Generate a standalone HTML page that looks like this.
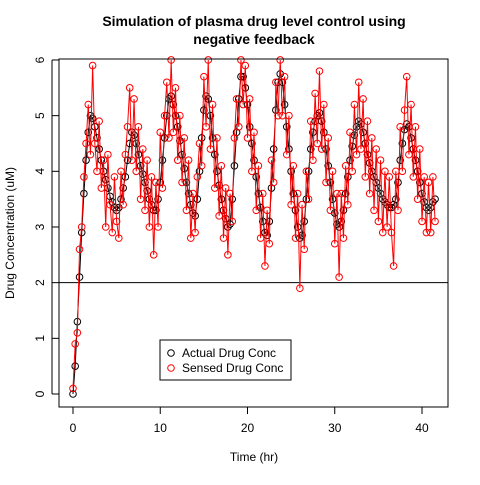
<!DOCTYPE html>
<html><head><meta charset="utf-8"><style>
body{margin:0;background:#fff}
svg text{font-family:"Liberation Sans",sans-serif}
</style></head><body>
<svg id="c" width="480" height="480" xmlns="http://www.w3.org/2000/svg">
<rect width="480" height="480" fill="#fff"/>
<text x="254" y="26" text-anchor="middle" font-size="14" font-weight="bold">Simulation of plasma drug level control using</text>
<text x="254" y="44" text-anchor="middle" font-size="14" font-weight="bold">negative feedback</text>
<text x="254" y="461" text-anchor="middle" font-size="12">Time (hr)</text>
<text transform="translate(14,233) rotate(-90)" text-anchor="middle" font-size="12">Drug Concentration (uM)</text>
<g id="ax"></g>
<g id="series"></g>
<rect x="59" y="59" width="389" height="348" fill="none" stroke="#000"/>
<g>
<rect x="160" y="340" width="131" height="40" fill="#fff" stroke="#000"/>
<circle cx="171" cy="353" r="3.3" fill="none" stroke="#000"/>
<text x="182" y="357" font-size="12">Actual Drug Conc</text>
<circle cx="171" cy="368" r="3.3" fill="none" stroke="red"/>
<text x="182" y="372" font-size="12">Sensed Drug Conc</text>
</g>
</svg>
<script>
const timeStep = 0.25;
const xTicks = [0,10,20,30,40];
const yTicks = [0,1,2,3,4,5,6];
const threshold = 2;
const actual = [0,0.5,1.3,2.1,2.9,3.6,4.2,4.7,5.0,4.95,4.8,4.6,4.4,4.2,4.0,3.85,3.7,3.55,3.45,3.35,3.3,3.35,3.5,3.7,3.9,4.2,4.5,4.7,4.65,4.5,4.3,4.1,3.95,3.8,3.65,3.5,3.4,3.3,3.3,3.5,3.8,4.2,4.6,5.0,5.3,5.35,5.2,5.0,4.8,4.55,4.3,4.05,3.8,3.6,3.4,3.25,3.2,3.5,4.0,4.6,5.1,5.35,5.3,5.0,4.6,4.3,4.0,3.75,3.5,3.3,3.15,3.0,3.05,3.5,4.1,4.7,5.3,5.7,5.7,5.5,5.2,4.8,4.5,4.2,3.9,3.6,3.35,3.1,2.9,2.85,3.1,3.7,4.4,5.1,5.6,5.75,5.6,5.2,4.8,4.4,4.0,3.6,3.3,3.0,2.8,2.85,3.1,3.5,4.0,4.4,4.7,4.9,5.0,5.05,4.9,4.7,4.4,4.1,3.8,3.5,3.25,3.05,3.0,3.1,3.3,3.6,3.9,4.2,4.45,4.65,4.8,4.9,4.85,4.7,4.5,4.3,4.15,4.0,3.9,3.8,3.7,3.6,3.5,3.45,3.4,3.35,3.35,3.4,3.5,3.8,4.2,4.5,4.75,4.85,4.8,4.6,4.4,4.2,4.0,3.8,3.6,3.45,3.35,3.3,3.35,3.45,3.5];
const sensed = [0.1,0.9,1.1,2.6,3.0,3.9,4.5,5.2,4.3,5.9,4.5,4.0,4.9,3.7,4.2,3.0,4.3,3.4,2.9,3.9,3.1,2.8,4.0,3.4,4.3,4.8,5.5,4.2,5.3,4.0,4.8,3.5,4.4,3.3,4.2,3.0,3.9,2.5,3.8,3.0,4.7,3.7,5.0,5.6,4.6,6.0,4.7,5.5,4.2,5.0,3.8,4.6,3.3,4.2,2.8,3.6,2.9,3.9,4.5,4.1,5.7,4.8,6.0,4.4,5.2,3.7,4.6,3.2,4.1,2.8,3.7,2.5,3.6,3.1,4.6,5.3,4.8,6.0,5.2,5.9,4.6,5.3,4.0,4.7,3.3,4.1,2.8,3.6,2.3,3.3,2.7,4.2,3.8,5.6,5.0,6.0,5.0,5.7,4.3,5.0,3.4,4.1,2.8,3.6,1.9,3.4,2.6,4.0,3.5,4.9,4.2,5.4,4.5,5.8,4.4,5.2,3.8,4.6,3.3,4.0,2.7,3.6,2.1,3.6,2.8,4.1,3.4,4.7,4.0,5.2,4.3,5.6,4.4,5.3,3.9,4.9,3.6,4.6,3.3,4.4,3.1,4.2,2.9,4.0,3.0,3.9,2.9,2.3,4.0,3.3,4.8,4.0,5.1,5.7,4.3,5.2,3.9,4.8,3.5,4.4,3.1,3.9,2.9,3.8,2.9,3.9,3.1];

const NS='http://www.w3.org/2000/svg';
const xs = v => 73 + v*8.725;
const ys = v => 394 - v*55.67;
function mk(tag, attrs, parent){const e=document.createElementNS(NS,tag);for(const k in attrs)e.setAttribute(k,attrs[k]);parent.appendChild(e);return e;}
const ax=document.getElementById('ax');
xTicks.forEach(t=>{
  const l=mk('line',{x1:xs(t),x2:xs(t),y1:407,y2:414,stroke:'#000'},ax);
  
  
  const tx=mk('text',{x:xs(t),y:432,'text-anchor':'middle','font-size':12},ax);
  tx.textContent=t;
  
  
});
mk('line',{x1:xs(0),x2:xs(40),y1:407,y2:407,stroke:'#000'},ax);
yTicks.forEach(t=>{
  const l=mk('line',{x1:52,x2:59,y1:ys(t),y2:ys(t),stroke:'#000'},ax);
  
  
  const tx=mk('text',{transform:`translate(44,${ys(t)}) rotate(-90)`,'text-anchor':'middle','font-size':12},ax);
  tx.textContent=t;
  
  
});
mk('line',{x1:52,x2:52,y1:ys(0),y2:ys(6),stroke:'#000'},ax);
const th=mk('line',{x1:59,x2:448,y1:ys(threshold),y2:ys(threshold),stroke:'#000'},ax);



const sg=document.getElementById('series');
function draw(vals,color,name){
  const pts=vals.map((v,i)=>xs(i*timeStep).toFixed(2)+','+ys(v).toFixed(2)).join(' ');
  const pl=mk('polyline',{points:pts,fill:'none',stroke:color,'stroke-width':1},sg);
  
  
  vals.forEach((v,i)=>{
    const c=mk('circle',{cx:xs(i*timeStep),cy:ys(v),r:3.3,fill:'none',stroke:color,'stroke-width':1},sg);
    
    
  });
}
draw(actual,'#000','actual');
draw(sensed,'red','sensed');
</script>
</body></html>
